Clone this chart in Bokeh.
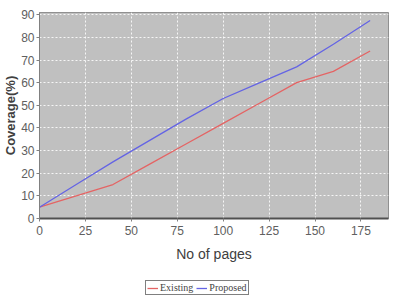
from bokeh.plotting import figure
from bokeh.models import Legend, LegendItem, FixedTicker, Range1d
from bokeh.layouts import column
from bokeh.embed import file_html
from bokeh.resources import INLINE

pages = [0, 20, 40, 60, 80, 100, 120, 140, 160, 180]
existing = [5, 10, 15, 24, 33, 42, 51, 60, 65, 74]
proposed = [5, 15, 25, 34.5, 44, 53, 60, 67, 77, 87.5]
x_ticks = [0, 25, 50, 75, 100, 125, 150, 175]
y_ticks = [0, 10, 20, 30, 40, 50, 60, 70, 80, 90]
series_names = ["Existing", "Proposed"]
series_colors = ["#e46464", "#6464e4"]

p = figure(width=394, height=271, x_range=(0, 190), y_range=(0, 91),
           output_backend="svg", toolbar_location=None,
           min_border_left=34, min_border_right=6, min_border_top=12, min_border_bottom=53)

p.background_fill_color = "#c0c0c0"
p.border_fill_color = "white"
p.outline_line_color = "#909090"

tick_font = "Liberation Sans, Arial, sans-serif"
p.xaxis.ticker = FixedTicker(ticks=x_ticks)
p.yaxis.ticker = FixedTicker(ticks=y_ticks)
for ax in (p.xaxis, p.yaxis):
    ax.major_label_text_font = tick_font
    ax.major_label_text_font_size = "12px"
    ax.major_label_text_color = "#606060"
    ax.major_tick_line_color = "#808080"
    ax.major_tick_out = 3
    ax.major_tick_in = 0
    ax.minor_tick_line_color = None
    ax.axis_line_color = "#808080"
    ax.major_label_standoff = 2

p.xaxis.major_label_standoff = 4
p.xaxis.axis_label = "No of pages"
p.xaxis.axis_label_text_font = tick_font
p.xaxis.axis_label_text_font_style = "normal"
p.xaxis.axis_label_text_font_size = "14px"
p.xaxis.axis_label_text_color = "#404040"
p.xaxis.axis_label_standoff = 8
p.xaxis.axis_line_color = "#505050"
p.xaxis.axis_line_width = 2

p.yaxis.axis_label = "Coverage(%)"
p.yaxis.axis_label_text_font = "Liberation Sans, Arial, sans-serif"
p.yaxis.axis_label_text_font_style = "bold"
p.yaxis.axis_label_text_font_size = "13px"
p.yaxis.axis_label_text_color = "#404040"
p.yaxis.axis_label_standoff = 0

p.grid.grid_line_color = "white"
p.grid.grid_line_dash = "2 2"
p.grid.grid_line_alpha = 0.85

p.line(pages, existing, line_color=series_colors[0], line_width=1.3)
p.line(pages, proposed, line_color=series_colors[1], line_width=1.3)

# legend strip below the chart (its lines fall outside its 0..1 ranges, only the keys show)
lg = figure(width=394, height=25, x_range=Range1d(0, 1), y_range=Range1d(0, 1),
            output_backend="svg", toolbar_location=None,
            x_axis_type=None, y_axis_type=None,
            min_border_left=0, min_border_right=0, min_border_top=0, min_border_bottom=0)
lg.outline_line_color = None
lg.background_fill_color = "white"
lg.border_fill_color = "white"
lg.grid.visible = False
k1 = lg.line(pages, existing, line_color=series_colors[0], line_width=1.3)
k2 = lg.line(pages, proposed, line_color=series_colors[1], line_width=1.3)

legend = Legend(items=[LegendItem(label=series_names[0], renderers=[k1]),
                       LegendItem(label=series_names[1], renderers=[k2])],
                orientation="horizontal", location=(106, 1))
legend.label_text_font = "Liberation Serif, serif"
legend.label_text_font_size = "10px"
legend.label_standoff = 2
legend.glyph_width = 11
legend.glyph_height = 10
legend.spacing = 3
legend.padding = 1
legend.margin = 0
legend.border_line_color = "black"
legend.border_line_width = 1
legend.background_fill_color = "white"
legend.label_height = 10
lg.add_layout(legend, "center")

open("out.html", "w").write(file_html(column(p, lg, spacing=0), INLINE))
